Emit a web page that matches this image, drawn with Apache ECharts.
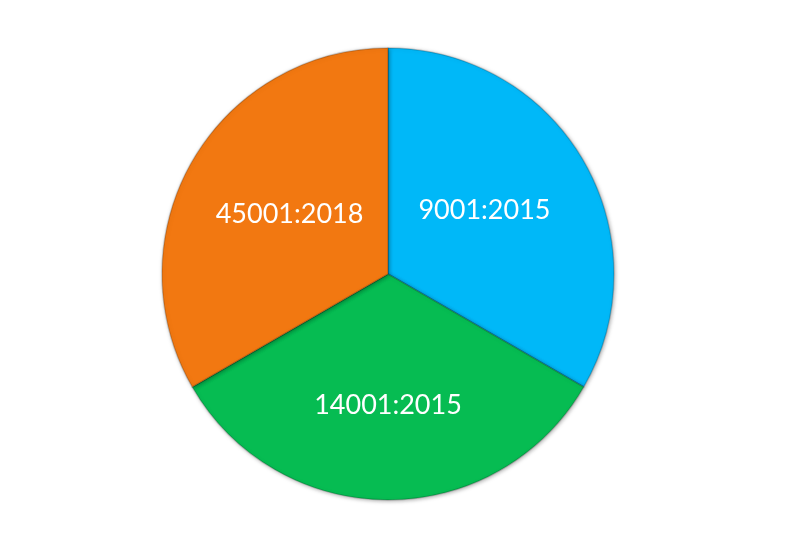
<!DOCTYPE html>
<html><head><meta charset="utf-8">
<script src="https://cdn.jsdelivr.net/npm/echarts@6/dist/echarts.min.js"></script>
<style>html,body{margin:0;padding:0;background:#fff}#c{width:800px;height:534px}</style>
</head><body><div id="c"></div>
<script>
const categories = ["9001:2015", "14001:2015", "45001:2018"];
const values = [1, 1, 1];
const colors = ["#00B8F8", "#06BC52", "#F27811"];
const labelOffsets = [[-4, -6], [0, 15], [2, -2]];
const chart = echarts.init(document.getElementById('c'));
chart.setOption({
  animation: false,
  series: [{
    type: 'pie',
    center: [388, 274],
    radius: 226,
    startAngle: 90,
    clockwise: true,
    data: categories.map((n, i) => ({ name: n, value: values[i], itemStyle: { color: colors[i] }, label: { offset: labelOffsets[i] } })),
    itemStyle: { borderColor: 'rgba(0,0,0,0.18)', borderWidth: 1.5, shadowBlur: 4, shadowColor: 'rgba(0,0,0,0.35)', shadowOffsetX: 1, shadowOffsetY: 1 },
    label: { show: true, position: 'inside', formatter: '{b}', color: '#fff', fontSize: 27, fontFamily: 'Lato' },
    labelLine: { show: false },
    emphasis: { disabled: true }
  }]
});
</script></body></html>
